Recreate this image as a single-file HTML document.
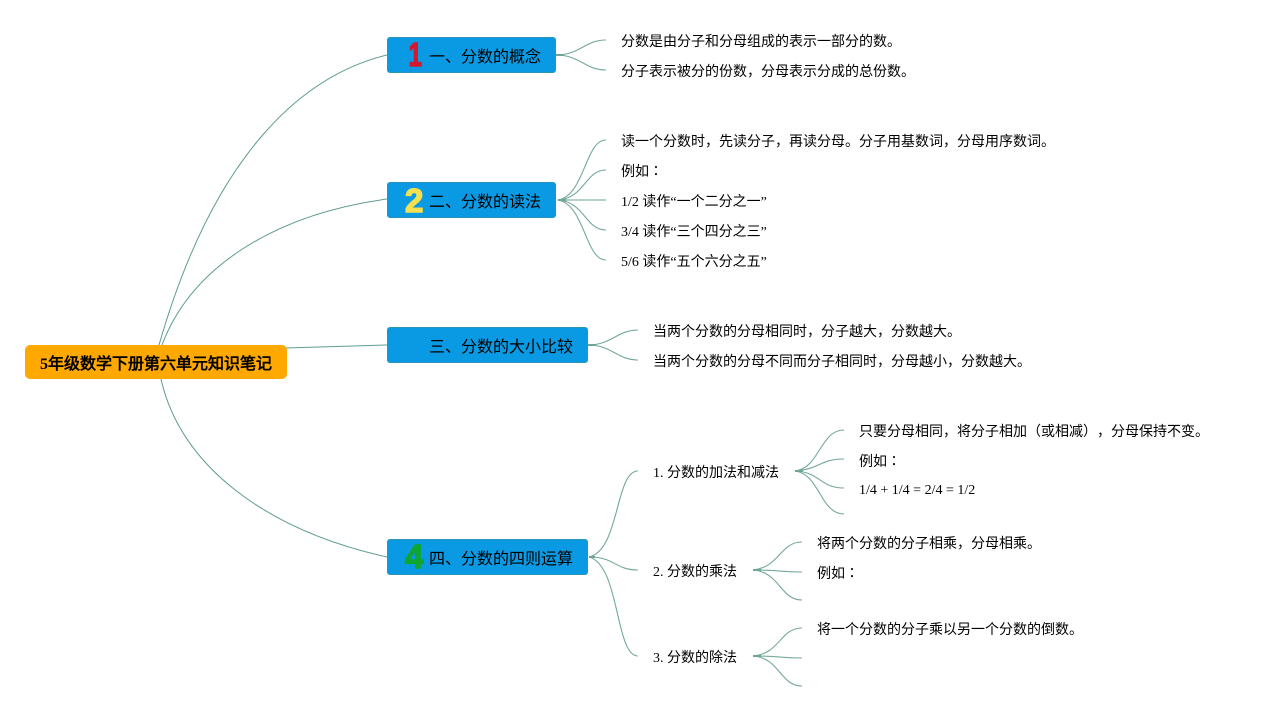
<!DOCTYPE html>
<html><head><meta charset="utf-8"><style>
html,body{margin:0;padding:0;background:#fff}
#c{position:relative;width:1269px;height:711px;overflow:hidden;background:#fff;font-family:"Liberation Serif","WenQuanYi Zen Hei",sans-serif;color:#000;text-spacing-trim:space-all}
svg{position:absolute;left:0;top:0}
.t{position:absolute;font-size:14px;line-height:20px;height:20px;white-space:nowrap}
.n{position:absolute;background:#0a9ae3;border:1px solid #2b94b8;box-sizing:border-box;border-radius:3px;height:36px}
.h{position:absolute;font-size:16px;line-height:24px;white-space:nowrap}
.i{position:absolute;font-family:"Liberation Sans",sans-serif;font-weight:bold;font-size:33px;line-height:36px;-webkit-text-stroke:1.4px currentColor}
.k{font-family:"Noto Sans CJK TC",sans-serif;line-height:0}
.p{display:inline-block;width:14px;line-height:0}
</style></head><body><div id="c">
<svg width="1269" height="711" fill="none" stroke="#5e9c90" stroke-width="1">
<path d="M159 345C215 150 305 75 387 55"/>
<path d="M162 345C190 270 270 215 387 199"/>
<path d="M286 348L387 345"/>
<path d="M161 379C180 465 265 530 387 557"/>
<g stroke="#74a89a" stroke-width="1.1">
<path d="M556 55C580 55 585 40 606 40"/>
<path d="M556 55C580 55 585 70 606 70"/>
<path d="M558 200C585 195 585 140 606 140"/>
<path d="M558 200C585 198 585 170 606 170"/>
<path d="M558 200H606" stroke-width="1.6" stroke="#9cc4b6"/>
<path d="M558 200C585 202 585 230 606 230"/>
<path d="M558 200C585 205 585 260 606 260"/>
<path d="M588 345C612 345 617 330 638 330"/>
<path d="M588 345C612 345 617 360 638 360"/>
<path d="M589 557C620 550 615 471 638 471"/>
<path d="M589 557C615 557 615 570 638 570"/>
<path d="M589 557C620 565 615 656 638 656"/>
<path d="M795 471C820 468 820 430 844 430"/>
<path d="M795 471C820 469 820 459 844 459"/>
<path d="M795 471C820 472 820 488 844 488"/>
<path d="M795 471C820 474 820 514 844 514"/>
<path d="M753 570C780 567 780 542 802 542"/>
<path d="M753 570C780 570 780 572 802 572"/>
<path d="M753 570C780 572 780 600 802 600"/>
<path d="M753 656C780 654 780 628 802 628"/>
<path d="M753 656C780 656 780 658 802 658"/>
<path d="M753 656C780 658 780 686 802 686"/>
</g>
<g stroke="#6fa596" stroke-width="2">
<path d="M556 55h8M558 200h8M588 345h8M589 557h6M795 471h8M753 570h8M753 656h8"/>
</g>
</svg>
<div style="position:absolute;left:25px;top:345px;width:262px;height:34px;background:#ffa800;border-radius:5px"></div>
<div class="h" style="left:40px;top:353px;font-weight:bold">5年级数学下册第六单元知识笔记</div>

<div class="n" style="left:387px;top:37px;width:169px"></div>
<div class="i" style="left:406px;top:37px;color:#d3182f;transform:scaleX(.72);transform-origin:50% 50%">1</div>
<div class="h" style="left:429px;top:46px">一、分数的概念</div>
<div class="n" style="left:387px;top:182px;width:169px"></div>
<div class="i" style="left:405px;top:183px;color:#f5e050">2</div>
<div class="h" style="left:429px;top:191px">二、分数的读法</div>
<div class="n" style="left:387px;top:327px;width:201px"></div>
<div class="h" style="left:429px;top:336px">三、分数的大小比较</div>
<div class="n" style="left:387px;top:539px;width:201px"></div>
<div class="i" style="left:405px;top:539px;color:#0fa62e">4</div>
<div class="h" style="left:429px;top:548px">四、分数的四则运算</div>

<div class="t" style="left:621px;top:33px">分数是由分子和分母组成的表示一部分的数。</div>
<div class="t" style="left:621px;top:63px">分子表示被分的份数，分母表示分成的总份数。</div>
<div class="t" style="left:621px;top:133px">读一个分数时，先读分子，再读分母。分子用基数词，分母用序数词。</div>
<div class="t" style="left:621px;top:163px">例如<span class="k">：</span></div>
<div class="t" style="left:621px;top:193px">1/2 读作“一个二分之一”</div>
<div class="t" style="left:621px;top:223px">3/4 读作“三个四分之三”</div>
<div class="t" style="left:621px;top:253px">5/6 读作“五个六分之五”</div>
<div class="t" style="left:653px;top:323px">当两个分数的分母相同时，分子越大，分数越大。</div>
<div class="t" style="left:653px;top:353px">当两个分数的分母不同而分子相同时，分母越小，分数越大。</div>
<div class="t" style="left:653px;top:464px">1. 分数的加法和减法</div>
<div class="t" style="left:653px;top:563px">2. 分数的乘法</div>
<div class="t" style="left:653px;top:649px">3. 分数的除法</div>
<div class="t" style="left:859px;top:423px">只要分母相同，将分子相加<span class="p">（</span>或相减<span class="p">）</span><span class="p">，</span>分母保持不变。</div>
<div class="t" style="left:859px;top:453px">例如<span class="k">：</span></div>
<div class="t" style="left:859px;top:481px">1/4 + 1/4 = 2/4 = 1/2</div>
<div class="t" style="left:817px;top:535px">将两个分数的分子相乘，分母相乘。</div>
<div class="t" style="left:817px;top:565px">例如<span class="k">：</span></div>
<div class="t" style="left:817px;top:621px">将一个分数的分子乘以另一个分数的倒数。</div>
</div></body></html>
